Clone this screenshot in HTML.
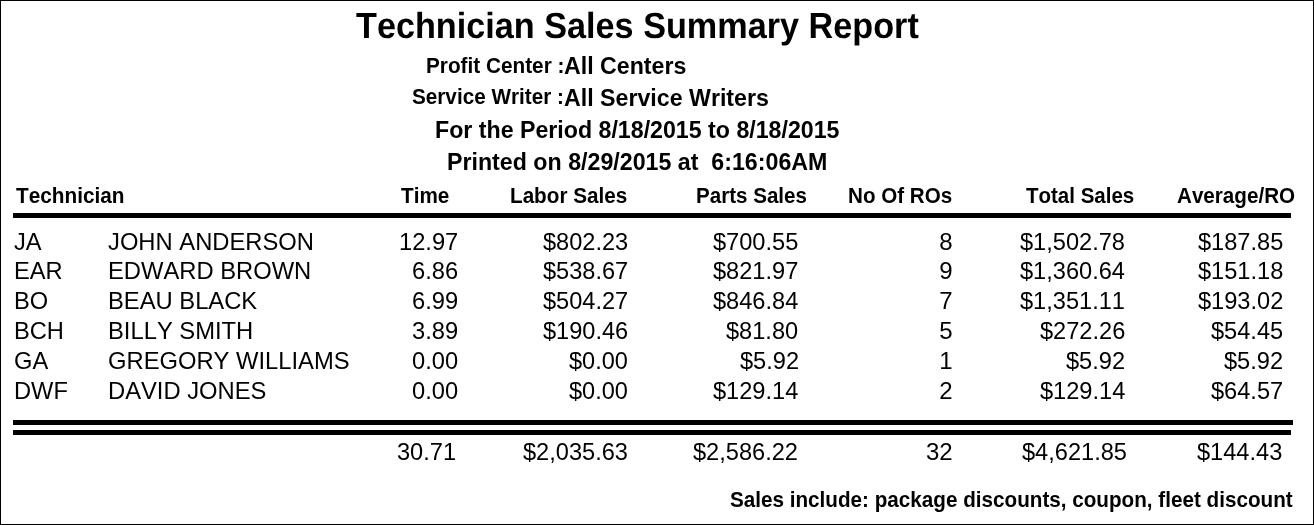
<!DOCTYPE html>
<html lang="en">
<head>
<meta charset="utf-8">
<title>Technician Sales Summary Report</title>
<style>
html,body{margin:0;padding:0;background:#fff;}
body{width:1314px;height:525px;overflow:hidden;position:relative;font-family:"Liberation Sans",sans-serif;color:#000;font-kerning:none;}
#frame{position:absolute;left:0;top:0;width:1314px;height:525px;border:1px solid #000;box-sizing:border-box;}
.t{position:absolute;white-space:pre;line-height:1;}
.b{font-weight:bold;}
.rule{position:absolute;background:#000;height:5px;}
</style>
</head>
<body>
<div id="frame"></div>
<div class="rule" style="left:13px;top:213px;width:1278px"></div>
<div class="rule" style="left:13px;top:420px;width:1280px"></div>
<div class="rule" style="left:13px;top:430px;width:1278px"></div>
<div class="t b" style="font-size:34px;left:356.16px;top:10px;transform-origin:0 28px;transform:scale(1.0063,1.069);text-rendering:geometricPrecision;">Technician Sales Summary Report</div>
<div class="t b" style="font-size:21px;left:425.85px;top:55px;transform-origin:0 18px;transform:scale(0.9884,1.05);">Profit Center :</div>
<div class="t b" style="font-size:23px;left:563.74px;top:55px;transform-origin:0 19px;transform:scale(1.0072,1);">All Centers</div>
<div class="t b" style="font-size:21px;left:412.38px;top:86px;transform-origin:0 18px;transform:scale(0.9856,1.05);">Service Writer :</div>
<div class="t b" style="font-size:23px;left:563.74px;top:87px;transform-origin:0 19px;transform:scale(1.0081,1);">All Service Writers</div>
<div class="t b" style="font-size:23px;left:435.09px;top:119px;transform-origin:0 19px;transform:scale(1.0077,1);">For the Period 8/18/2015 to 8/18/2015</div>
<div class="t b" style="font-size:23px;left:447.29px;top:151px;transform-origin:0 19px;transform:scale(1.0087,1);">Printed on 8/29/2015 at  6:16:06AM</div>
<div class="t b" style="font-size:21px;left:16.49px;top:185px;transform-origin:0 18px;transform:scale(0.9888,1.05);">Technician</div>
<div class="t b" style="font-size:21px;left:400.69px;top:185px;transform-origin:0 18px;transform:scale(0.9865,1.05);">Time</div>
<div class="t b" style="font-size:21px;left:510.26px;top:185px;transform-origin:0 18px;transform:scale(0.9844,1.05);">Labor Sales</div>
<div class="t b" style="font-size:21px;left:695.86px;top:185px;transform-origin:0 18px;transform:scale(0.98,1.05);">Parts Sales</div>
<div class="t b" style="font-size:21px;left:847.86px;top:185px;transform-origin:0 18px;transform:scale(0.9813,1.05);">No Of ROs</div>
<div class="t b" style="font-size:21px;left:1025.79px;top:185px;transform-origin:0 18px;transform:scale(0.9763,1.05);">Total Sales</div>
<div class="t b" style="font-size:21px;left:1177.39px;top:185px;transform-origin:0 18px;transform:scale(0.9823,1.05);">Average/RO</div>
<div class="t" style="font-size:24px;left:13.6px;top:230px;transform-origin:0 20px;transform:scale(0.985,1);">JA</div>
<div class="t" style="font-size:24px;left:108.1px;top:230px;transform-origin:0 20px;transform:scale(0.99,1);">JOHN ANDERSON</div>
<div class="t" style="font-size:24px;left:399.02px;top:230px;transform-origin:0 20px;transform:scale(0.987,1);">12.97</div>
<div class="t" style="font-size:24px;left:543.19px;top:230px;transform-origin:0 20px;transform:scale(0.981,1);">$802.23</div>
<div class="t" style="font-size:24px;left:713.32px;top:230px;transform-origin:0 20px;transform:scale(0.983,1);">$700.55</div>
<div class="t" style="font-size:24px;left:939.25px;top:230px;">8</div>
<div class="t" style="font-size:24px;left:1020.45px;top:230px;transform-origin:0 20px;transform:scale(0.983,1);">$1,502.78</div>
<div class="t" style="font-size:24px;left:1197.62px;top:230px;transform-origin:0 20px;transform:scale(0.983,1);">$187.85</div>
<div class="t" style="font-size:24px;left:13.6px;top:259px;transform-origin:0 20px;transform:scale(0.985,1);">EAR</div>
<div class="t" style="font-size:24px;left:108.1px;top:259px;transform-origin:0 20px;transform:scale(0.99,1);">EDWARD BROWN</div>
<div class="t" style="font-size:24px;left:412.2px;top:259px;transform-origin:0 20px;transform:scale(0.987,1);">6.86</div>
<div class="t" style="font-size:24px;left:543.19px;top:259px;transform-origin:0 20px;transform:scale(0.981,1);">$538.67</div>
<div class="t" style="font-size:24px;left:713.32px;top:259px;transform-origin:0 20px;transform:scale(0.983,1);">$821.97</div>
<div class="t" style="font-size:24px;left:939.25px;top:259px;">9</div>
<div class="t" style="font-size:24px;left:1020.45px;top:259px;transform-origin:0 20px;transform:scale(0.983,1);">$1,360.64</div>
<div class="t" style="font-size:24px;left:1197.62px;top:259px;transform-origin:0 20px;transform:scale(0.983,1);">$151.18</div>
<div class="t" style="font-size:24px;left:13.6px;top:289px;transform-origin:0 20px;transform:scale(0.985,1);">BO</div>
<div class="t" style="font-size:24px;left:108.1px;top:289px;transform-origin:0 20px;transform:scale(0.99,1);">BEAU BLACK</div>
<div class="t" style="font-size:24px;left:412.2px;top:289px;transform-origin:0 20px;transform:scale(0.987,1);">6.99</div>
<div class="t" style="font-size:24px;left:543.19px;top:289px;transform-origin:0 20px;transform:scale(0.981,1);">$504.27</div>
<div class="t" style="font-size:24px;left:713.32px;top:289px;transform-origin:0 20px;transform:scale(0.983,1);">$846.84</div>
<div class="t" style="font-size:24px;left:939.25px;top:289px;">7</div>
<div class="t" style="font-size:24px;left:1020.45px;top:289px;transform-origin:0 20px;transform:scale(0.983,1);">$1,351.11</div>
<div class="t" style="font-size:24px;left:1197.62px;top:289px;transform-origin:0 20px;transform:scale(0.983,1);">$193.02</div>
<div class="t" style="font-size:24px;left:13.6px;top:319px;transform-origin:0 20px;transform:scale(0.985,1);">BCH</div>
<div class="t" style="font-size:24px;left:108.1px;top:319px;transform-origin:0 20px;transform:scale(0.99,1);">BILLY SMITH</div>
<div class="t" style="font-size:24px;left:412.2px;top:319px;transform-origin:0 20px;transform:scale(0.987,1);">3.89</div>
<div class="t" style="font-size:24px;left:543.19px;top:319px;transform-origin:0 20px;transform:scale(0.981,1);">$190.46</div>
<div class="t" style="font-size:24px;left:726.44px;top:319px;transform-origin:0 20px;transform:scale(0.983,1);">$81.80</div>
<div class="t" style="font-size:24px;left:939.25px;top:319px;">5</div>
<div class="t" style="font-size:24px;left:1040.12px;top:319px;transform-origin:0 20px;transform:scale(0.983,1);">$272.26</div>
<div class="t" style="font-size:24px;left:1210.74px;top:319px;transform-origin:0 20px;transform:scale(0.983,1);">$54.45</div>
<div class="t" style="font-size:24px;left:13.6px;top:349px;transform-origin:0 20px;transform:scale(0.985,1);">GA</div>
<div class="t" style="font-size:24px;left:108.1px;top:349px;transform-origin:0 20px;transform:scale(0.99,1);">GREGORY WILLIAMS</div>
<div class="t" style="font-size:24px;left:412.2px;top:349px;transform-origin:0 20px;transform:scale(0.987,1);">0.00</div>
<div class="t" style="font-size:24px;left:569.38px;top:349px;transform-origin:0 20px;transform:scale(0.981,1);">$0.00</div>
<div class="t" style="font-size:24px;left:739.56px;top:349px;transform-origin:0 20px;transform:scale(0.983,1);">$5.92</div>
<div class="t" style="font-size:24px;left:939.25px;top:349px;">1</div>
<div class="t" style="font-size:24px;left:1066.36px;top:349px;transform-origin:0 20px;transform:scale(0.983,1);">$5.92</div>
<div class="t" style="font-size:24px;left:1223.86px;top:349px;transform-origin:0 20px;transform:scale(0.983,1);">$5.92</div>
<div class="t" style="font-size:24px;left:13.6px;top:379px;transform-origin:0 20px;transform:scale(0.985,1);">DWF</div>
<div class="t" style="font-size:24px;left:108.1px;top:379px;transform-origin:0 20px;transform:scale(0.99,1);">DAVID JONES</div>
<div class="t" style="font-size:24px;left:412.2px;top:379px;transform-origin:0 20px;transform:scale(0.987,1);">0.00</div>
<div class="t" style="font-size:24px;left:569.38px;top:379px;transform-origin:0 20px;transform:scale(0.981,1);">$0.00</div>
<div class="t" style="font-size:24px;left:713.32px;top:379px;transform-origin:0 20px;transform:scale(0.983,1);">$129.14</div>
<div class="t" style="font-size:24px;left:939.25px;top:379px;">2</div>
<div class="t" style="font-size:24px;left:1040.12px;top:379px;transform-origin:0 20px;transform:scale(0.983,1);">$129.14</div>
<div class="t" style="font-size:24px;left:1210.74px;top:379px;transform-origin:0 20px;transform:scale(0.983,1);">$64.57</div>
<div class="t" style="font-size:24px;left:397.16px;top:440px;transform-origin:0 20px;transform:scale(0.983,1);">30.71</div>
<div class="t" style="font-size:24px;left:523.35px;top:440px;transform-origin:0 20px;transform:scale(0.983,1);">$2,035.63</div>
<div class="t" style="font-size:24px;left:693.25px;top:440px;transform-origin:0 20px;transform:scale(0.983,1);">$2,586.22</div>
<div class="t" style="font-size:24px;left:925.9px;top:440px;">32</div>
<div class="t" style="font-size:24px;left:1021.75px;top:440px;transform-origin:0 20px;transform:scale(0.983,1);">$4,621.85</div>
<div class="t" style="font-size:24px;left:1197.22px;top:440px;transform-origin:0 20px;transform:scale(0.983,1);">$144.43</div>
<div class="t b" style="font-size:21px;left:729.68px;top:489px;transform-origin:0 18px;transform:scale(0.9841,1.05);">Sales include: package discounts, coupon, fleet discount</div>
</body>
</html>
